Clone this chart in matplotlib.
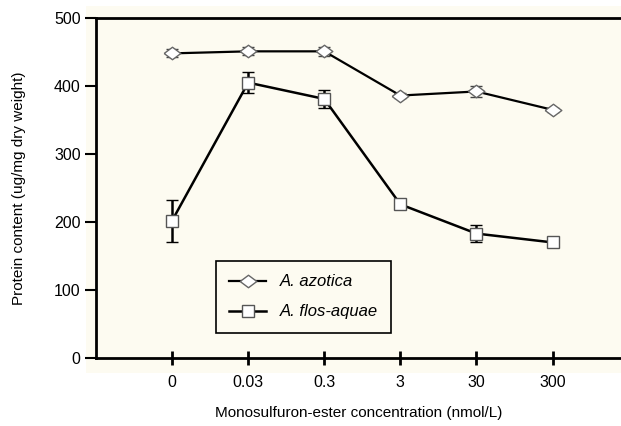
import matplotlib.pyplot as plt
from matplotlib.lines import Line2D

plt.rcParams['font.family'] = ['Liberation Sans', 'DejaVu Sans']

# Data
concentrations = ["0", "0.03", "0.3", "3", "30", "300"]
azotica_mean = [448, 451, 451, 386, 392, 365]
azotica_err = [6, 6, 7, 3, 8, 3]
flos_mean = [202, 405, 381, 226, 183, 170]
flos_err = [31, 15, 13, 3, 12, 4]

fig = plt.figure(figsize=(6.21, 4.26), dpi=100)

# cream panel behind the plot
bg = fig.add_axes([0.138, 0.124, 0.862, 0.862])
bg.set_facecolor('#fdfbf1')
bg.set_xticks([])
bg.set_yticks([])
for s in bg.spines.values():
    s.set_visible(False)

ax = fig.add_axes([0.1546, 0.1596, 0.8454, 0.7981])
ax.set_facecolor('none')

x = list(range(len(concentrations)))

# flattened diamond marker
flat_diamond = [(-1, 0), (0, 0.75), (1, 0), (0, -0.75), (-1, 0)]

az_style = dict(color='black', linewidth=1.6, marker=flat_diamond, markersize=12,
                markerfacecolor='white', markeredgecolor='#666666', markeredgewidth=1.0)
fl_style = dict(color='black', linewidth=1.8, marker='s', markersize=8,
                markerfacecolor='white', markeredgecolor='#555555', markeredgewidth=1.0)

ax.errorbar(x, azotica_mean, yerr=azotica_err, ecolor='#444444', elinewidth=1.0,
            capsize=4, capthick=1.0, zorder=3, **az_style)
ax.errorbar(x, flos_mean, yerr=flos_err, ecolor='black', elinewidth=1.8,
            capsize=4, capthick=1.8, zorder=3, **fl_style)

ax.set_xlim(-1, 5.9)
ax.set_ylim(0, 500)
ax.set_xticks(x)
ax.set_xticklabels(concentrations)
ax.set_yticks([0, 100, 200, 300, 400, 500])

ax.spines['right'].set_visible(False)
for s in ['left', 'bottom', 'top']:
    ax.spines[s].set_linewidth(2)

ax.tick_params(axis='y', direction='out', length=8, width=1.5, labelsize=11.5, pad=3)
ax.tick_params(axis='x', direction='inout', length=10, width=2, labelsize=11.5, pad=7)

ax.set_ylabel('Protein content (ug/mg dry weight)', fontsize=11, labelpad=20)
ax.set_xlabel('Monosulfuron-ester concentration (nmol/L)', fontsize=11, labelpad=12)

handles = [Line2D([], [], **az_style), Line2D([], [], **fl_style)]
leg = ax.legend(handles, ['A. azotica', 'A. flos-aquae'], loc='lower left',
                bbox_to_anchor=(0.213, 0.05),
                prop={'style': 'italic', 'size': 12}, frameon=True, fancybox=False,
                edgecolor='black', facecolor='#fdfbf1', framealpha=1,
                handlelength=2.2, borderpad=0.8, labelspacing=0.9)
leg.get_frame().set_linewidth(1.2)

plt.savefig('out.png', dpi=100)
plt.close()
